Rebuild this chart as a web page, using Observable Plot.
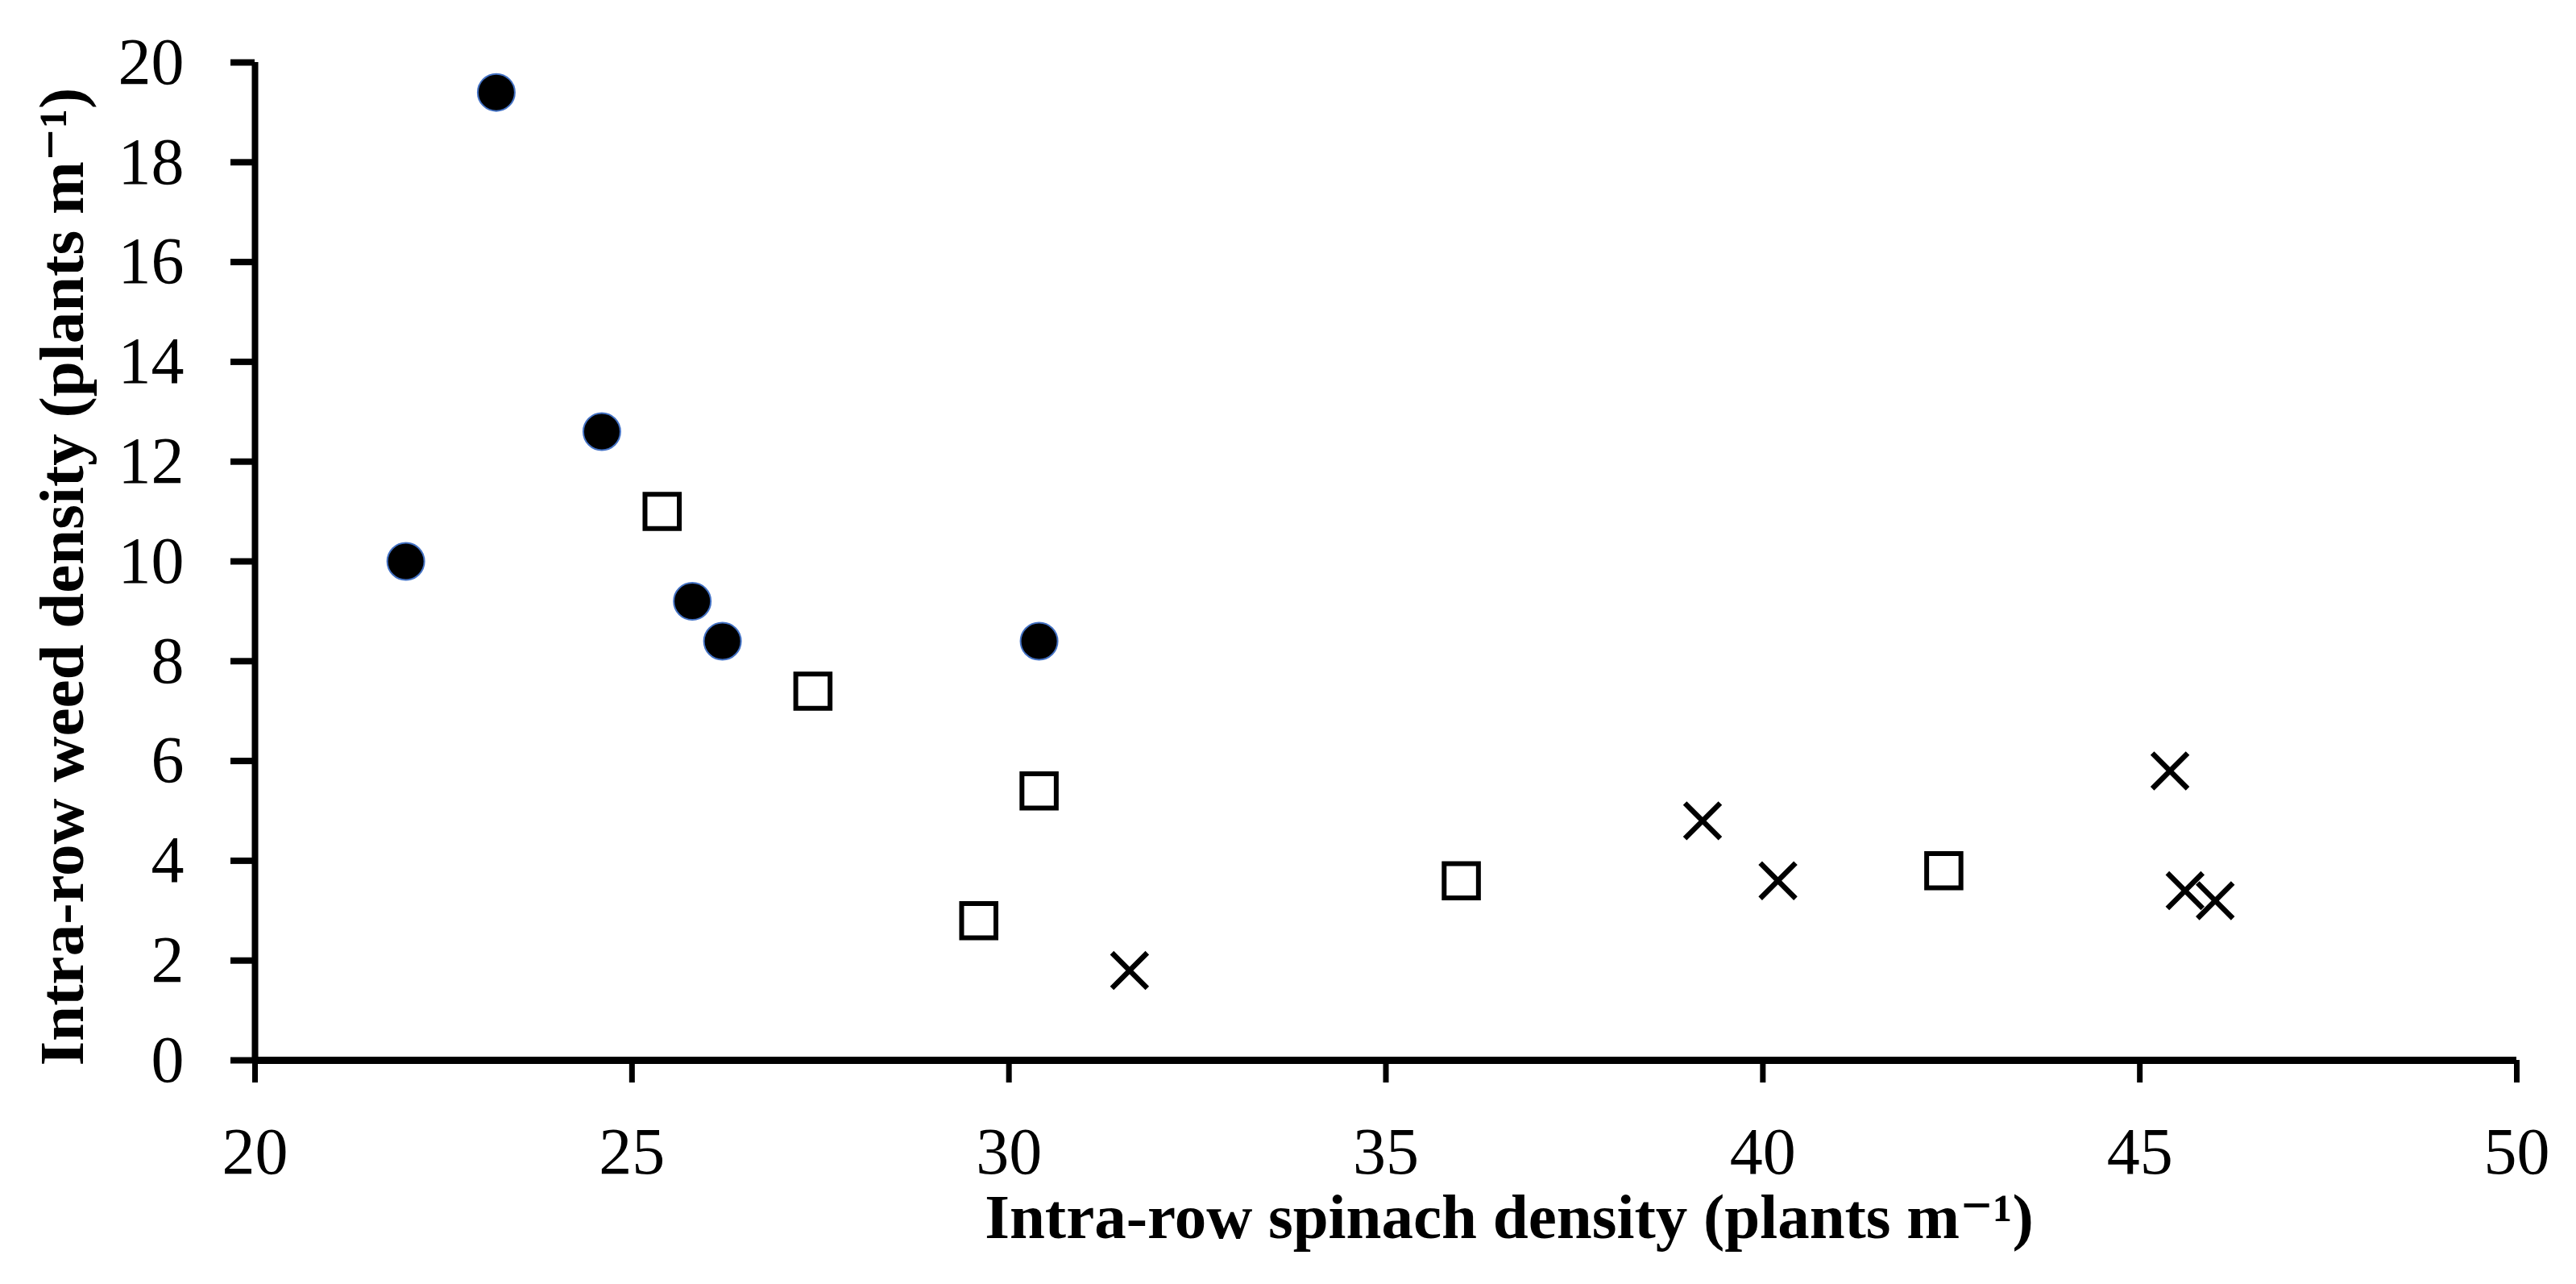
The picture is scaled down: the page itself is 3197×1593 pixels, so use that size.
<!DOCTYPE html>
<html><head><meta charset="utf-8">
<script src="https://cdn.jsdelivr.net/npm/d3@7"></script>
<script src="https://cdn.jsdelivr.net/npm/@observablehq/plot@0.6"></script>
<style>html,body{margin:0;padding:0;background:#fff}</style>
</head><body><div id="chart"></div>
<script>
const xTicks = [20, 25, 30, 35, 40, 45, 50];
const yTicks = [0, 2, 4, 6, 8, 10, 12, 14, 16, 18, 20];

const circleX = [23.2, 22.0, 24.6, 25.8, 26.2, 30.4];
const circleY = [19.4, 10.0, 12.6, 9.2, 8.4, 8.4];

const squareX = [25.4, 27.4, 30.4, 29.6, 36.0, 42.4];
const squareY = [11.0, 7.4, 5.4, 2.8, 3.6, 3.8];

const crossX = [31.6, 39.2, 40.2, 45.4, 45.6, 46.0];
const crossY = [1.8, 4.8, 3.6, 5.8, 3.4, 3.2];

const xLabel = "Intra-row spinach density (plants m\u207B\u00B9)";
const yLabel = "Intra-row weed density (plants m\u207B\u00B9)";

const toRows = (xs, ys) => xs.map((x, i) => ({x, y: ys[i]}));
const circles = toRows(circleX, circleY);
const squares = toRows(squareX, squareY);
const crosses = toRows(crossX, crossY);

const FONT = "'Liberation Serif', 'DejaVu Serif', serif";

const chart = Plot.plot({
  width: 3197,
  height: 1593,
  marginLeft: 316,
  marginRight: 74,
  marginTop: 77,
  marginBottom: 278,
  style: {fontFamily: FONT, background: "#fff", color: "#000"},
  x: {domain: [20, 50]},
  y: {domain: [0, 20]},
  marks: [
    Plot.axisX(xTicks, {tickSize: 28, tickPadding: 54, strokeWidth: 7, fontSize: 82, label: null, fill: "#000", tickFormat: d3.format("d")}),
    Plot.axisY(yTicks, {tickSize: 30, tickPadding: 58, strokeWidth: 8, fontSize: 82, label: null, fill: "#000", tickFormat: d3.format("d")}),
    Plot.ruleX([xTicks[0]], {stroke: "#000", strokeWidth: 8}),
    Plot.ruleY([yTicks[0]], {stroke: "#000", strokeWidth: 9}),
    Plot.dot(circles, {x: "x", y: "y", symbol: "circle", r: 23, fill: "#000", stroke: "#4472C4", strokeWidth: 2}),
    Plot.dot(squares, {x: "x", y: "y", symbol: "square", r: 24, fill: "#fff", stroke: "#000", strokeWidth: 6}),
    Plot.dot(crosses, {x: "x", y: "y", symbol: "times", r: 20, stroke: "#000", strokeWidth: 6.5}),
    Plot.text([xLabel], {frameAnchor: "bottom", text: d => d, textAnchor: "middle", lineAnchor: "middle", dx: 153, dy: 195, fontSize: 79, fontWeight: "bold", fill: "#000"}),
    Plot.text([yLabel], {frameAnchor: "left", text: d => d, textAnchor: "middle", lineAnchor: "middle", rotate: -90, dx: -239, dy: 19, fontSize: 79, fontWeight: "bold", fill: "#000"})
  ]
});
document.getElementById("chart").appendChild(chart);
</script>
</body></html>
